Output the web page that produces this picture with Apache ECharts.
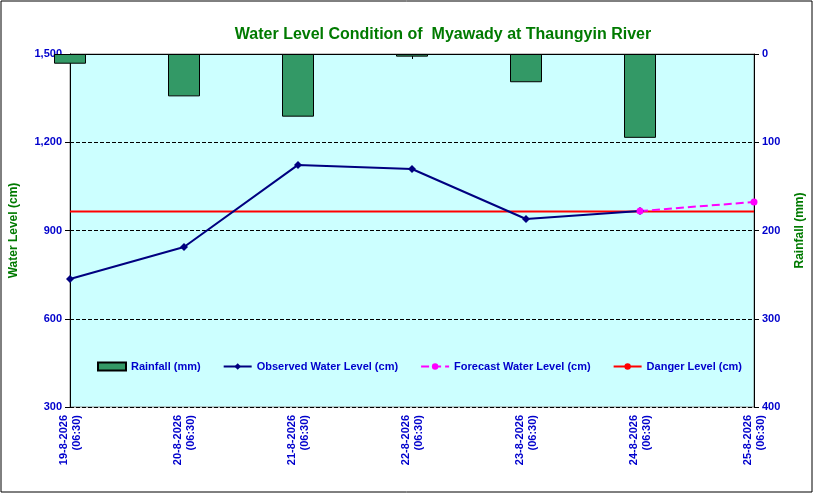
<!DOCTYPE html>
<html><head><meta charset="utf-8">
<script src="https://cdn.jsdelivr.net/npm/echarts@6/dist/echarts.min.js"></script>
<style>html,body{margin:0;padding:0;background:#fff}#c{width:814px;height:494px}</style>
</head><body><div id="c"></div>
<script>
const categories=['19-8-2026\n(06:30)','20-8-2026\n(06:30)','21-8-2026\n(06:30)','22-8-2026\n(06:30)','23-8-2026\n(06:30)','24-8-2026\n(06:30)','25-8-2026\n(06:30)'];
const rainfall=[11,48,71,3,32,95,null];
const observed=[735,844,1123,1109,939,966,null];
const forecast=[null,null,null,null,null,966,997];
const danger=[965,965,965,965,965,965,965];
const chart=echarts.init(document.getElementById('c'));
const blue='#0000cc',green='#007a00';
chart.setOption({
 animation:false,
 graphic:[{type:'rect',shape:{x:1,y:1,width:811,height:491},style:{fill:'none',stroke:'#000',lineWidth:1}}],
 title:{text:'Water Level Condition of  Myawady at Thaungyin River',left:438,top:22,textAlign:'center',textStyle:{color:green,fontSize:16,fontWeight:'bold',fontFamily:'Liberation Sans'}},
 grid:{left:70,right:59,top:54,bottom:87,show:true,backgroundColor:'#ccffff',borderColor:'#888',borderWidth:1},
 legend:{top:356,left:92,itemGap:22,textStyle:{color:blue,fontSize:11,fontWeight:'bold',fontFamily:'Liberation Sans'},
  data:[{name:'Rainfall (mm)',icon:'rect'},'Observed Water Level (cm)','Forecast Water Level (cm)','Danger Level (cm)'],itemWidth:28,itemHeight:8},
 xAxis:{type:'category',data:categories,boundaryGap:false,axisLine:{lineStyle:{color:'#000'}},axisTick:{show:true,lineStyle:{color:'#000'}},
  axisLabel:{rotate:90,color:blue,fontWeight:'bold',fontSize:11,fontFamily:'Liberation Sans',interval:0,lineHeight:13}},
 yAxis:[{type:'value',min:300,max:1500,interval:300,name:'Water Level (cm)',nameLocation:'middle',nameGap:50,
   nameTextStyle:{color:green,fontWeight:'bold',fontSize:12,fontFamily:'Liberation Sans'},
   axisLine:{show:true,lineStyle:{color:'#000'}},axisTick:{show:true},axisLabel:{color:blue,fontWeight:'bold',fontSize:11,fontFamily:'Liberation Sans'},
   splitLine:{lineStyle:{color:'#000',type:'dashed',width:1}}},
  {type:'value',min:0,max:400,interval:100,inverse:true,name:'Rainfall (mm)',nameLocation:'middle',nameGap:40,nameRotate:90,
   nameTextStyle:{color:green,fontWeight:'bold',fontSize:12,fontFamily:'Liberation Sans'},
   axisLine:{show:true,lineStyle:{color:'#000'}},axisTick:{show:true},axisLabel:{color:blue,fontWeight:'bold',fontSize:11,fontFamily:'Liberation Sans'},splitLine:{show:false}}],
 series:[
  {name:'Rainfall (mm)',type:'bar',yAxisIndex:1,data:rainfall,barWidth:32,itemStyle:{color:'#339966',borderColor:'#000',borderWidth:1}},
  {name:'Danger Level (cm)',type:'line',data:danger,symbol:'none',lineStyle:{color:'#ff0000',width:2},itemStyle:{color:'#ff0000'}},
  {name:'Observed Water Level (cm)',type:'line',data:observed,symbol:'diamond',symbolSize:8,lineStyle:{color:'#000080',width:2},itemStyle:{color:'#000080'}},
  {name:'Forecast Water Level (cm)',type:'line',data:forecast,symbol:'circle',symbolSize:7,lineStyle:{color:'#ff00ff',width:2,type:'dashed'},itemStyle:{color:'#ff00ff'}}
 ]
});
</script></body></html>
